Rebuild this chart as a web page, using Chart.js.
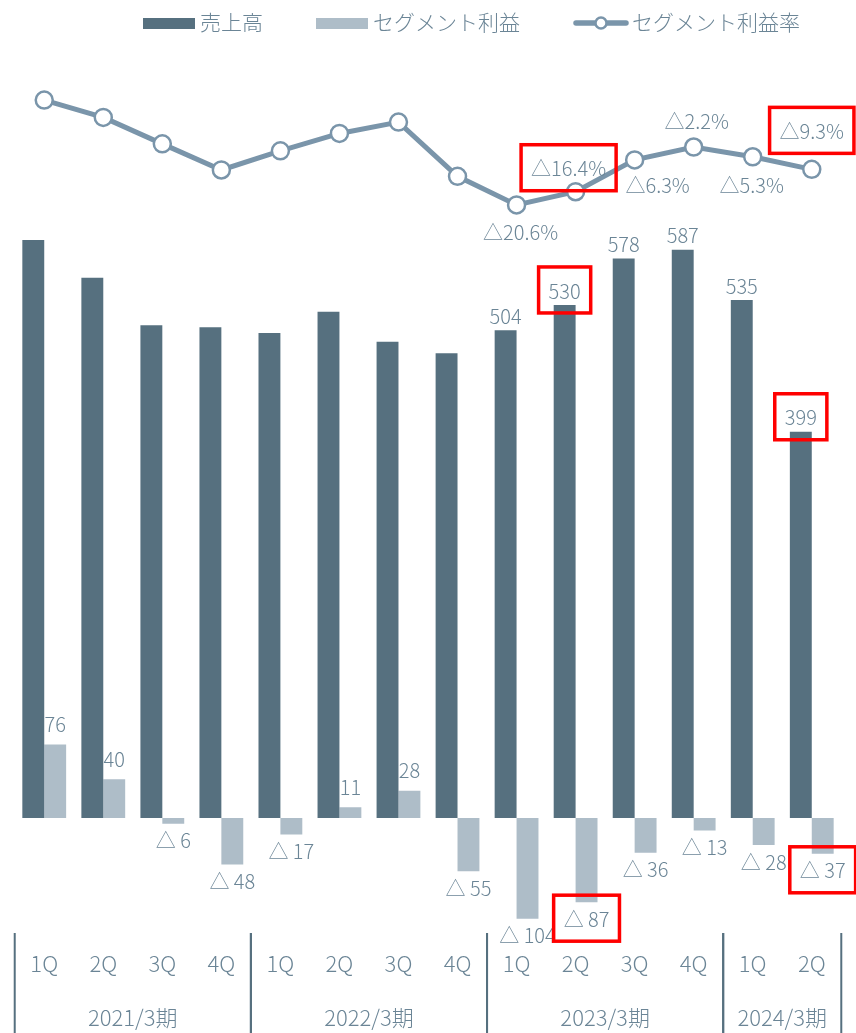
<!DOCTYPE html>
<html lang="ja">
<head>
<meta charset="utf-8">
<script src="https://cdn.jsdelivr.net/npm/chart.js@4.4.1/dist/chart.umd.min.js"></script>
<style>
  html, body { margin: 0; padding: 0; background: #fff; overflow: hidden; }
  canvas { display: block; }
</style>
</head>
<body>
<canvas id="segChart" width="856" height="1033"></canvas>
<script>
// データ
const quarters = ['1Q', '2Q', '3Q', '4Q', '1Q', '2Q', '3Q', '4Q', '1Q', '2Q', '3Q', '4Q', '1Q', '2Q'];
const fiscalYears = ['2021/3期', '2022/3期', '2023/3期', '2024/3期'];
const quartersPerYear = [4, 4, 4, 2];
const sales = [597, 558, 509, 507, 501, 523, 492, 480, 504, 530, 578, 587, 535, 399];
const segmentProfit = [76, 40, -6, -48, -17, 11, 28, -55, -104, -87, -36, -13, -28, -37];
const profitRate = [12.7, 7.2, -1.2, -9.5, -3.4, 2.1, 5.7, -11.5, -20.6, -16.4, -6.3, -2.2, -5.3, -9.3];

// ラベルを出す位置・赤枠
const salesLabelShown = [8, 9, 10, 11, 12, 13];
const rateLabelShown = [8, 9, 10, 11, 12, 13];
const boxedSales = [9, 13];
const boxedProfit = [9, 13];
const boxedRate = [9, 13];

const DARK = '#56707f';
const LIGHT = '#aebdc8';
const LINE = '#7a95aa';
const TEXT = '#6b8596';
const FONT = '"Noto Sans CJK JP", "Noto Sans", sans-serif';

// 利益率ラベルのずらし量 [dx, dy]
const rateLabelOffset = { 8: [4, 27], 9: [-7, -23], 10: [23, 25], 11: [3, -26], 12: [-1, 29], 13: [0, -38] };

// マイナスは△表記
const tri = (v, space) => (v < 0 ? '△' + (space ? ' ' : '') + Math.abs(v) : String(v));
const pct = v => (v < 0 ? '△' + Math.abs(v).toFixed(1) : v.toFixed(1)) + '%';

function redBox(ctx, x, y, text) {
    const w = ctx.measureText(text).width;
    ctx.save();
    ctx.strokeStyle = '#ff0000';
    ctx.lineWidth = 3.5;
    ctx.strokeRect(x - w / 2 - 10, y - 24, w + 20, 46);
    ctx.restore();
}

const valueLabels = {
    id: 'valueLabels',
    afterDatasetsDraw(chart) {
        const ctx = chart.ctx;
        ctx.save();
        ctx.font = '300 20px ' + FONT;
        ctx.fillStyle = TEXT;
        ctx.textAlign = 'center';
        ctx.textBaseline = 'middle';

        const salesBars = chart.getDatasetMeta(0).data;
        salesLabelShown.forEach(i => {
            const b = salesBars[i];
            const t = String(sales[i]);
            ctx.fillText(t, b.x, b.y - 14);
            if (boxedSales.includes(i)) redBox(ctx, b.x, b.y - 14, t);
        });

        const profitBars = chart.getDatasetMeta(1).data;
        segmentProfit.forEach((v, i) => {
            const b = profitBars[i];
            const t = tri(v, true);
            const y = v >= 0 ? b.y - 20 : b.y + 17;
            ctx.fillText(t, b.x, y);
            if (boxedProfit.includes(i)) redBox(ctx, b.x, y, t);
        });

        const pts = chart.getDatasetMeta(2).data;
        rateLabelShown.forEach(i => {
            const p = pts[i];
            const [dx, dy] = rateLabelOffset[i];
            const t = pct(profitRate[i]);
            ctx.fillText(t, p.x + dx, p.y + dy);
            if (boxedRate.includes(i)) redBox(ctx, p.x + dx, p.y + dy, t);
        });
        ctx.restore();
    }
};

// 年度の区切り線と年度ラベル
const yearGroups = {
    id: 'yearGroups',
    afterDraw(chart) {
        const ctx = chart.ctx;
        const xs = chart.scales.x;
        const step = xs.getPixelForValue(1) - xs.getPixelForValue(0);
        const edge = i => xs.getPixelForValue(i) - step / 2;
        ctx.save();
        ctx.strokeStyle = DARK;
        ctx.lineWidth = 2;
        ctx.font = '300 22px ' + FONT;
        ctx.fillStyle = TEXT;
        ctx.textAlign = 'center';
        ctx.textBaseline = 'middle';
        let start = 0;
        fiscalYears.forEach((fy, k) => {
            const end = start + quartersPerYear[k];
            const x0 = edge(start), x1 = edge(end);
            [x0, x1].forEach(x => {
                ctx.beginPath();
                ctx.moveTo(x, 933);
                ctx.lineTo(x, chart.height);
                ctx.stroke();
            });
            ctx.fillText(fy, (x0 + x1) / 2, 1018);
            start = end;
        });
        ctx.restore();
    }
};

// 凡例
const legendItems = [
    { text: '売上高', kind: 'box', color: DARK },
    { text: 'セグメント利益', kind: 'box', color: LIGHT },
    { text: 'セグメント利益率', kind: 'line', color: LINE }
];
const topLegend = {
    id: 'topLegend',
    afterDraw(chart) {
        const ctx = chart.ctx;
        ctx.save();
        ctx.font = '300 21px ' + FONT;
        ctx.textBaseline = 'middle';
        let x = 143;
        const cy = 22;
        legendItems.forEach(it => {
            if (it.kind === 'box') {
                ctx.fillStyle = it.color;
                ctx.fillRect(x, cy - 4, 52, 11);
                x += 57;
            } else {
                ctx.strokeStyle = it.color;
                ctx.lineWidth = 5.5;
                ctx.lineCap = 'round';
                ctx.beginPath();
                ctx.moveTo(x + 3, cy + 1);
                ctx.lineTo(x + 53, cy + 1);
                ctx.stroke();
                ctx.beginPath();
                ctx.arc(x + 28, cy + 1, 5.5, 0, Math.PI * 2);
                ctx.fillStyle = '#fff';
                ctx.fill();
                ctx.lineWidth = 2.5;
                ctx.stroke();
                x += 59;
            }
            ctx.fillStyle = TEXT;
            ctx.fillText(it.text, x, cy);
            x += ctx.measureText(it.text).width + 53;
        });
        ctx.restore();
    }
};

const ctx = document.getElementById('segChart').getContext('2d');

new Chart(ctx, {
    data: {
        labels: quarters,
        datasets: [
            {
                type: 'bar',
                label: '売上高',
                data: sales,
                backgroundColor: DARK,
                yAxisID: 'y',
                order: 2,
                categoryPercentage: 0.742,
                barPercentage: 1.0
            },
            {
                type: 'bar',
                label: 'セグメント利益',
                data: segmentProfit,
                backgroundColor: LIGHT,
                yAxisID: 'y',
                order: 3,
                categoryPercentage: 0.742,
                barPercentage: 1.0
            },
            {
                type: 'line',
                label: 'セグメント利益率',
                data: profitRate,
                yAxisID: 'y2',
                order: 0,
                borderColor: LINE,
                borderWidth: 5,
                pointRadius: 8.5,
                pointBackgroundColor: '#fff',
                pointBorderColor: LINE,
                pointBorderWidth: 2.5,
                tension: 0
            }
        ]
    },
    options: {
        responsive: false,
        animation: false,
        layout: { padding: { top: 44, left: 14, right: 11, bottom: 0 } },
        scales: {
            x: {
                offset: true,
                grid: { display: false, drawTicks: false },
                border: { display: false },
                ticks: { color: TEXT, font: { family: FONT, size: 22, weight: 300 }, padding: 30, maxRotation: 0 },
                afterFit: s => { s.height = 113; }
            },
            y: {
                position: 'left',
                min: -105.4,
                max: 799.6,
                ticks: { display: false, stepSize: 100 },
                border: { display: false },
                grid: {
                    drawTicks: false,
                    lineWidth: 2,
                    color: c => (c.tick && c.tick.value === 0 ? DARK : 'rgba(0,0,0,0)')
                },
                afterFit: s => { s.width = 0; }
            },
            y2: {
                position: 'right',
                display: false,
                min: -247.6,
                max: 30.5
            }
        },
        plugins: {
            legend: { display: false },
            tooltip: { enabled: false }
        }
    },
    plugins: [valueLabels, yearGroups, topLegend]
});
</script>
</body>
</html>
